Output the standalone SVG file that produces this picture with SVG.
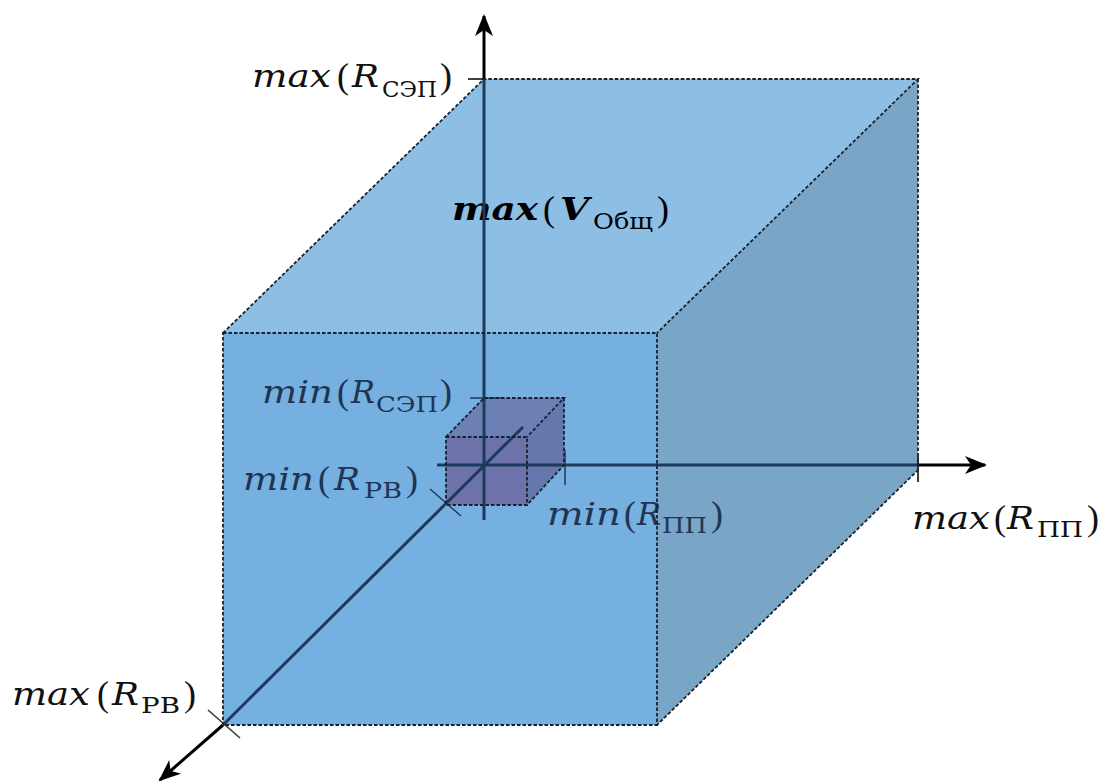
<svg xmlns="http://www.w3.org/2000/svg" width="1104" height="784" viewBox="0 0 1104 784">
  <defs>
    <marker id="arr" markerUnits="userSpaceOnUse" markerWidth="24" markerHeight="20" refX="20" refY="9" orient="auto">
      <path d="M0,0 L22,9 L0,18 L6,9 Z" fill="#000"/>
    </marker>
    <style>
      .edge { fill: none; stroke: #18222e; stroke-width: 1.8; stroke-dasharray: 3.5 2; }
      .axin { fill: none; stroke: #1c3a5c; stroke-width: 3; }
      .axout { fill: none; stroke: #000; stroke-width: 3; }
      .tick { fill: none; stroke-width: 1.5; }
      .lbl { font-family: "DejaVu Serif", "Liberation Serif", serif; font-size: 31px; }
      .it { font-style: italic; }
      .par { font-family: "Liberation Serif", "DejaVu Serif", serif; font-size: 36px; }
      .sub { font-size: 22px; }
      .out { fill: #111; }
      .in { fill: #1f3553; }
    </style>
  </defs>
  <rect width="1104" height="784" fill="#fff"/>

  <g id="big-cube">
    <polygon points="223,333 484,79 918,79 657,333" fill="#8dbee4"/>
    <polygon points="657,333 918,79 918,470 657,725" fill="#79a6c7"/>
    <rect x="223" y="333" width="434" height="392" fill="#75b0e0"/>
  </g>

  <g id="labels-inside">
    <g id="label-max-v" class="lbl" fill="#000" font-weight="bold">
      <text x="452" y="220" class="it" textLength="86" lengthAdjust="spacingAndGlyphs">max</text>
      <text x="543" y="221" class="par" font-weight="normal">(</text>
      <text x="560" y="220" class="it" textLength="29" lengthAdjust="spacingAndGlyphs">V</text>
      <text x="593" y="229" class="sub" font-weight="normal" textLength="60" lengthAdjust="spacingAndGlyphs">Общ</text>
      <text x="657" y="221" class="par" font-weight="normal">)</text>
    </g>
    <g id="label-min-rsep" class="lbl in">
      <text x="262" y="403" class="it" textLength="71" lengthAdjust="spacingAndGlyphs">min</text>
      <text x="337" y="404" class="par">(</text>
      <text x="351" y="403" class="it" textLength="24" lengthAdjust="spacingAndGlyphs">R</text>
      <text x="376" y="412" class="sub" textLength="62" lengthAdjust="spacingAndGlyphs">СЭП</text>
      <text x="440" y="404" class="par">)</text>
    </g>
    <g id="label-min-rrv" class="lbl in">
      <text x="243" y="490" class="it" textLength="71" lengthAdjust="spacingAndGlyphs">min</text>
      <text x="318" y="491" class="par">(</text>
      <text x="334" y="490" class="it" textLength="26" lengthAdjust="spacingAndGlyphs">R</text>
      <text x="364" y="498" class="sub" textLength="38" lengthAdjust="spacingAndGlyphs">РВ</text>
      <text x="406" y="491" class="par">)</text>
    </g>
    <g id="label-min-rpp" class="lbl in">
      <text x="547" y="525" class="it" textLength="74" lengthAdjust="spacingAndGlyphs">min</text>
      <text x="624" y="526" class="par">(</text>
      <text x="637" y="525" class="it" textLength="24" lengthAdjust="spacingAndGlyphs">R</text>
      <text x="662" y="533" class="sub" textLength="45" lengthAdjust="spacingAndGlyphs">ПП</text>
      <text x="711" y="526" class="par">)</text>
    </g>
  </g>

  <g id="small-cube" opacity="0.75">
    <polygon points="446,437 484,398 564,398 527,437" fill="#6a70a8"/>
    <polygon points="527,437 564,398 564,465 527,505" fill="#62659c"/>
    <rect x="446" y="437" width="81" height="68" fill="#6c5e98"/>
  </g>

  <g id="connectors">
    <line class="axin" x1="484" y1="520" x2="484" y2="79"/>
    <line class="axout" x1="484" y1="79" x2="484" y2="16" marker-end="url(#arr)"/>
    <line class="axin" x1="437" y1="465" x2="918" y2="465"/>
    <line class="axout" x1="918" y1="465" x2="985" y2="465" marker-end="url(#arr)"/>
    <line class="axin" x1="523" y1="427" x2="223" y2="725"/>
    <line class="axout" x1="223" y1="725" x2="160" y2="780" marker-end="url(#arr)"/>
    <line class="tick" stroke="#000" stroke-width="2" x1="468" y1="79" x2="484" y2="79"/>
    <line class="tick" stroke="#1c3a5c" stroke-width="2" x1="470" y1="398" x2="502" y2="398"/>
    <line class="tick" stroke="#1c3a5c" x1="565" y1="450" x2="565" y2="485"/>
    <line class="tick" stroke="#000" x1="918" y1="456" x2="918" y2="482"/>
    <line class="tick" stroke="#2a3a50" x1="430" y1="489" x2="461" y2="516"/>
    <line class="tick" stroke="#333" x1="208" y1="710" x2="240" y2="738"/>
  </g>

  <g id="edges">
    <rect class="edge" x="223" y="333" width="434" height="392"/>
    <polyline class="edge" points="223,333 484,79 918,79 657,333"/>
    <polyline class="edge" points="918,79 918,470 657,725"/>
    <rect class="edge" x="446" y="437" width="81" height="68" stroke-width="1.3"/>
    <polyline class="edge" stroke-width="1.3" points="446,437 484,398 564,398 527,437"/>
    <polyline class="edge" stroke-width="1.3" points="564,398 564,465 527,505"/>
  </g>

  <g id="labels-outside">
    <g id="label-max-rsep" class="lbl out">
      <text x="252" y="87" class="it" textLength="79" lengthAdjust="spacingAndGlyphs">max</text>
      <text x="337" y="88" class="par">(</text>
      <text x="352" y="87" class="it" textLength="27" lengthAdjust="spacingAndGlyphs">R</text>
      <text x="382" y="97" class="sub" textLength="55" lengthAdjust="spacingAndGlyphs">СЭП</text>
      <text x="440" y="88" class="par">)</text>
    </g>
    <g id="label-max-rpp" class="lbl out">
      <text x="912" y="529" class="it" textLength="78" lengthAdjust="spacingAndGlyphs">max</text>
      <text x="994" y="530" class="par">(</text>
      <text x="1007" y="529" class="it" textLength="27" lengthAdjust="spacingAndGlyphs">R</text>
      <text x="1037" y="537" class="sub" textLength="46" lengthAdjust="spacingAndGlyphs">ПП</text>
      <text x="1087" y="530" class="par">)</text>
    </g>
    <g id="label-max-rrv" class="lbl out">
      <text x="12" y="705" class="it" textLength="78" lengthAdjust="spacingAndGlyphs">max</text>
      <text x="97" y="706" class="par">(</text>
      <text x="112" y="705" class="it" textLength="27" lengthAdjust="spacingAndGlyphs">R</text>
      <text x="141" y="713" class="sub" textLength="39" lengthAdjust="spacingAndGlyphs">РВ</text>
      <text x="184" y="706" class="par">)</text>
    </g>
  </g>
</svg>
